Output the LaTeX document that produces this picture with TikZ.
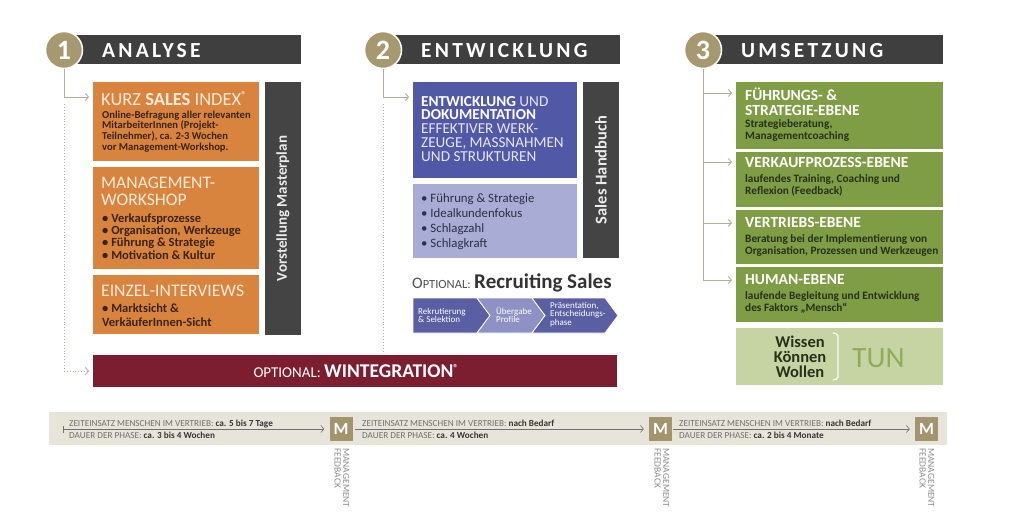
\documentclass[tikz,border=0pt]{standalone}
\usepackage{fontspec}
\setmainfont{Carlito}
\usetikzlibrary{arrows.meta}
\definecolor{hdr}{HTML}{3F3F3F}
\definecolor{tan}{HTML}{A6986F}
\definecolor{org}{HTML}{D9843E}
\definecolor{orgtxt}{HTML}{FCEBDA}
\definecolor{orgbody}{HTML}{3A2414}
\definecolor{darkbar}{HTML}{444444}
\definecolor{wine}{HTML}{7C1E2F}
\definecolor{blu}{HTML}{5159A6}
\definecolor{blutxt}{HTML}{E4E6F4}
\definecolor{lblu}{HTML}{A9ADD6}
\definecolor{lblutxt}{HTML}{2E2F40}
\definecolor{chevd}{HTML}{5A5FA3}
\definecolor{chevl}{HTML}{8E91C4}
\definecolor{grn}{HTML}{7F9D45}
\definecolor{grntxt}{HTML}{27301A}
\definecolor{lgrn}{HTML}{C6D3A2}
\definecolor{tun}{HTML}{92AB57}
\definecolor{band}{HTML}{E7E4D9}
\definecolor{mbox}{HTML}{A39470}
\definecolor{conn}{HTML}{B8AE98}
\definecolor{tltxt}{HTML}{707070}
\definecolor{tldark}{HTML}{353535}
\definecolor{optg}{HTML}{505050}
\definecolor{rsd}{HTML}{333333}
\newcommand\ml[1]{\vtop{\halign{##\hfil\cr#1\crcr}}}
\newcommand\mlc[1]{\vtop{\halign{\hfil##\hfil\cr#1\crcr}}}
\newcommand\fs[2]{\fontsize{#1pt}{#2pt}\selectfont}
\begin{document}
\begin{tikzpicture}[x=1pt,y=-1pt,
  box/.style={anchor=north west,inner sep=0pt,outer sep=0pt,draw=none},
  num/.style={circle,fill=tan,draw=white,line width=1.5pt,minimum size=37pt,inner sep=0pt,text=white,font=\fs{28}{28}\bfseries},
  htxt/.style={anchor=base west,inner sep=0pt,text=white,font=\fs{21.5}{21}\bfseries\addfontfeature{LetterSpace=15}},
  txt/.style={anchor=base west,inner sep=0pt},
  cn/.style={draw=conn,line width=0.9pt,-{Straight Barb[length=3pt,width=7pt]},shorten >=4pt},
  dcn/.style={draw=conn,line width=0.9pt,dotted,-{Straight Barb[length=3pt,width=7pt]},shorten >=4pt},
  tl/.style={draw=tltxt,line width=0.6pt,-{Straight Barb[length=3pt,width=7pt]},shorten >=5pt},
  mb/.style={fill=mbox,minimum width=23pt,minimum height=24pt,inner sep=0pt,text=white,font=\fs{17}{17}\bfseries},
  mf/.style={rotate=-90,anchor=base west,inner sep=0pt,text=tltxt!80,font=\fs{9.5}{8.5}},
  vbar/.style={rotate=90,inner sep=0pt,text=white!92!black,font=\fs{15}{15}\bfseries},
  ctx/.style={anchor=base west,inner sep=0pt,text=white,font=\fs{9}{8.7}}
]
\useasboundingbox (0,0) rectangle (1024,525);
\fill[white] (0,0) rectangle (1024,525);

% ---------- headers
\node[box,fill=hdr,minimum width=237pt,minimum height=29pt] (h1) at (64,35) {};
\node[box,fill=hdr,minimum width=237pt,minimum height=29pt] (h2) at (383,35) {};
\node[box,fill=hdr,minimum width=240pt,minimum height=29pt] (h3) at (703,35) {};
\node[num] (c1) at (64,50) {1};
\node[num] (c2) at (383,50) {2};
\node[num] (c3) at (703,50) {3};
\node[htxt] (h1t) at (102,57.5) {ANALYSE};
\node[htxt] (h2t) at (421,57.5) {ENTWICKLUNG};
\node[htxt] (h3t) at (741,57.5) {UMSETZUNG};

% ---------- column 1
\node[box,fill=org,minimum width=166pt,minimum height=79pt] (b1) at (93,82) {};
\node[box,fill=org,minimum width=166pt,minimum height=102pt] (b2) at (93,167) {};
\node[box,fill=org,minimum width=166pt,minimum height=59pt] (b3) at (93,275) {};
\node[box,fill=darkbar,minimum width=36pt,minimum height=253pt] (mp) at (265,82) {};
\node[vbar] (mpt) at (mp.center) {Vorstellung Masterplan};
\node[box,fill=wine,minimum width=524pt,minimum height=32pt] (wint) at (93,355) {};
\node[anchor=base,inner sep=0pt,text=white] (wintt) at (356,377.5)
  {\fs{15}{15}OPTIONAL: \fs{19.5}{19.5}\bfseries WINTEGRATION\raisebox{6pt}{\fs{10}{10}®}};

\node[txt,text=orgtxt] (b1t) at (101,105) {\fs{18.5}{18}KURZ \textbf{SALES} INDEX\raisebox{6.5pt}{\fs{10}{10}\bfseries ®}};
\node[txt,text=orgbody] (b1b) at (102,118) {\fs{10.6}{10.7}\bfseries\ml{Online-Befragung aller relevanten\cr MitarbeiterInnen (Projekt-\cr Teilnehmer), ca. 2-3 Wochen\cr vor Management-Workshop.}};
\node[txt,text=orgtxt] (b2t) at (101,188) {\fs{17.6}{17}\ml{MANAGEMENT-\cr WORKSHOP}};
\node[txt,text=orgbody] (b2b) at (102,222) {\fs{12.5}{12.4}\bfseries\ml{• Verkaufsprozesse\cr • Organisation, Werkzeuge\cr • Führung \& Strategie\cr • Motivation \& Kultur}};
\node[txt,text=orgtxt] (b3t) at (101,296) {\fs{17.6}{17}EINZEL-INTERVIEWS};
\node[txt,text=orgbody] (b3b) at (102,312) {\fs{12.5}{14}\bfseries\ml{• Marktsicht \&\cr VerkäuferInnen-Sicht}};

\draw[cn] (c1.south) |- ([yshift=-15pt]b1.north west);
\coordinate (d1) at (64,104);
\draw[dcn] (d1) |- (wint.west);

% ---------- column 2
\node[box,fill=blu,minimum width=164pt,minimum height=96pt] (bb1) at (413,82) {};
\node[box,fill=lblu,minimum width=164pt,minimum height=74pt] (bb2) at (413,184) {};
\node[box,fill=darkbar,minimum width=36pt,minimum height=176pt] (sh) at (583,82) {};
\node[vbar,font=\fs{16.5}{16.5}\bfseries] (sht) at (sh.center) {Sales Handbuch};
\node[txt,text=blutxt] (bb1t) at (421,106) {\fs{15.2}{13.9}\ml{\textcolor{white}{\bfseries ENTWICKLUNG} UND\cr \textcolor{white}{\bfseries DOKUMENTATION}\cr EFFEKTIVER WERK-\cr ZEUGE, MASSNAHMEN\cr UND STRUKTUREN}};
\node[txt,text=lblutxt] (bb2t) at (421,202) {\fs{12.8}{15}\ml{• Führung \& Strategie\cr • Idealkundenfokus\cr • Schlagzahl\cr • Schlagkraft}};
\draw[cn] (c2.south) |- ([yshift=-15pt]bb1.north west);
\coordinate (d2) at (383,104);
\draw[dcn,-] (d2) -- (d2 |- wint.north);

\node[txt] (rec) at (412,288) {\fs{16}{16}\textcolor{optg}{O\fs{12.5}{12.5}PTIONAL:} \fs{21}{21}\bfseries\textcolor{rsd}{Recruiting Sales}};
\fill[chevd,draw=white,line width=0.8pt] (413,298) -- (477,298) -- (490,315.5) -- (477,333) -- (413,333) -- cycle;
\fill[chevl,draw=white,line width=0.8pt] (477,298) -- (532,298) -- (545,315.5) -- (532,333) -- (477,333) -- (490,315.5) -- cycle;
\fill[chevd,draw=white,line width=0.8pt] (532,298) -- (605,298) -- (618,315.5) -- (605,333) -- (532,333) -- (545,315.5) -- cycle;
\node[ctx] (ch1) at (418,314) {\ml{Rekrutierung\cr \& Selektion}};
\node[ctx] (ch2) at (496,314) {\ml{Übergabe\cr Profile}};
\node[ctx] (ch3) at (550,308) {\ml{Präsentation,\cr Entscheidungs-\cr phase}};

% ---------- column 3
\node[box,fill=grn,minimum width=207pt,minimum height=67pt] (g1) at (736,82) {};
\node[box,fill=grn,minimum width=207pt,minimum height=55pt] (g2) at (736,152) {};
\node[box,fill=grn,minimum width=207pt,minimum height=54pt] (g3) at (736,210) {};
\node[box,fill=grn,minimum width=207pt,minimum height=55pt] (g4) at (736,267) {};
\node[box,fill=lgrn,minimum width=207pt,minimum height=57pt] (g5) at (736,328) {};

\node[txt,text=white] (g1t) at (745,100) {\fs{15.5}{15}\bfseries\ml{FÜHRUNGS- \&\cr STRATEGIE-EBENE}};
\node[txt,text=grntxt] (g1b) at (745,127) {\fs{11.3}{12}\bfseries\ml{Strategieberatung,\cr Managementcoaching}};
\node[txt,text=white] (g2t) at (745,167) {\fs{15.5}{15}\bfseries VERKAUFPROZESS-EBENE};
\node[txt,text=grntxt] (g2b) at (745,182) {\fs{11.3}{12}\bfseries\ml{laufendes Training, Coaching und\cr Reflexion (Feedback)}};
\node[txt,text=white] (g3t) at (745,227) {\fs{15.5}{15}\bfseries VERTRIEBS-EBENE};
\node[txt,text=grntxt] (g3b) at (745,242) {\fs{11.3}{12}\bfseries\ml{Beratung bei der Implementierung von\cr Organisation, Prozessen und Werkzeugen}};
\node[txt,text=white] (g4t) at (745,284) {\fs{15.5}{15}\bfseries HUMAN-EBENE};
\node[txt,text=grntxt] (g4b) at (745,299) {\fs{11.3}{12}\bfseries\ml{laufende Begleitung und Entwicklung\cr des Faktors „Mensch“}};
\node[anchor=base,inner sep=0pt,text=grntxt] (wkw) at (800,347) {\fs{16.5}{15}\bfseries\mlc{Wissen\cr Können\cr Wollen}};
\draw[white!90!lgrn,line width=1.3pt,rounded corners=2pt] (833,333) -- (838,334) -- (838,379) -- (833,380);
\node[txt,text=tun] (tun) at (852,367) {\fs{29.5}{29}TUN};

\draw[cn] (c3.south) |- ([yshift=-11pt]g1.north west);
\draw[cn] (c3.south) |- ([yshift=-10pt]g2.north west);
\draw[cn] (c3.south) |- ([yshift=-13pt]g3.north west);
\draw[cn] (c3.south) |- ([yshift=-13pt]g4.north west);

% ---------- timeline
\node[box,fill=band,minimum width=898pt,minimum height=33pt] (band) at (49,412) {};
\node[mb] (m1) at (341,429) {M};
\node[mb] (m2) at (660.5,429) {M};
\node[mb] (m3) at (926.5,429) {M};
\coordinate (t1) at (63,429);
\draw[tl,{Bar[width=7pt]}-{Straight Barb[length=3pt,width=7pt]}] (t1) -- (m1.west);
\draw[tl,shorten <=2pt] (m1.east) -- (m2.west);
\draw[tl,shorten <=1pt] (m2.east) -- (m3.west);

\node[txt,text=tltxt] (z1) at (69,426) {\fs{9.2}{9}ZEITEINSATZ MENSCHEN IM VERTRIEB: \textcolor{tldark}{\bfseries ca. 5 bis 7 Tage}};
\node[txt,text=tltxt] (p1) at (69,438.5) {\fs{9.2}{9}DAUER DER PHASE: \textcolor{tldark}{\bfseries ca. 3 bis 4 Wochen}};
\node[txt,text=tltxt] (z2) at (362,426) {\fs{9.2}{9}ZEITEINSATZ MENSCHEN IM VERTRIEB: \textcolor{tldark}{\bfseries nach Bedarf}};
\node[txt,text=tltxt] (p2) at (362,438.5) {\fs{9.2}{9}DAUER DER PHASE: \textcolor{tldark}{\bfseries ca. 4 Wochen}};
\node[txt,text=tltxt] (z3) at (679,426) {\fs{9.2}{9}ZEITEINSATZ MENSCHEN IM VERTRIEB: \textcolor{tldark}{\bfseries nach Bedarf}};
\node[txt,text=tltxt] (p3) at (679,438.5) {\fs{9.2}{9}DAUER DER PHASE: \textcolor{tldark}{\bfseries ca. 2 bis 4 Monate}};

\node[mf] (f1) at (343,448) {\ml{MANAGEMENT\cr FEEDBACK}};
\node[mf] (f2) at (663,448) {\ml{MANAGEMENT\cr FEEDBACK}};
\node[mf] (f3) at (928,448) {\ml{MANAGEMENT\cr FEEDBACK}};
\end{tikzpicture}
\end{document}
